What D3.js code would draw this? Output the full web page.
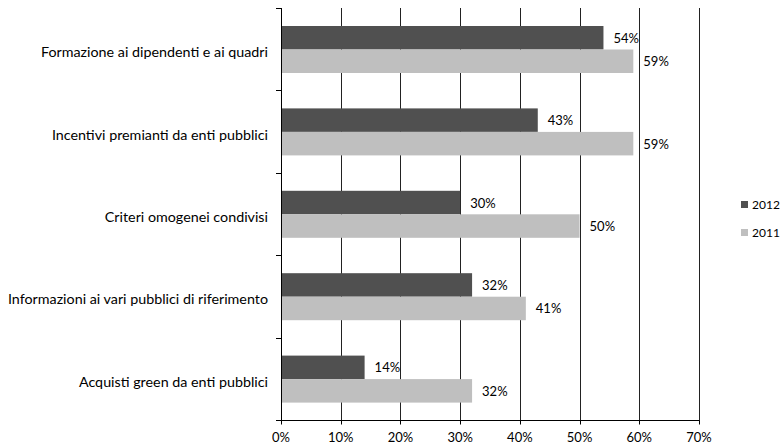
<!DOCTYPE html>
<html><head><meta charset="utf-8">
<script src="https://cdn.jsdelivr.net/npm/d3@7"></script>
<style>body{margin:0;background:#fff}svg{display:block}text{font-family:Lato,"Open Sans",sans-serif;fill:#000}</style>
</head><body><svg id="c" width="784" height="447"></svg>
<script>
const categories = ["Formazione ai dipendenti e ai quadri","Incentivi premianti da enti pubblici","Criteri omogenei condivisi","Informazioni ai vari pubblici di riferimento","Acquisti green da enti pubblici"];
const series = ["2012","2011"];
const values2012 = [54,43,30,32,14];
const values2011 = [59,59,50,41,32];
const xTicks = [0,10,20,30,40,50,60,70];
const colors = {"2012":"#505050","2011":"#bfbfbf"};

const svg = d3.select("#c");
const x = d3.scaleLinear().domain([0,70]).range([281,699]);
const y = d3.scaleBand().domain(categories).range([8,420]);
const inner = d3.scaleBand().domain(series).range([0,47]);
const off = 18;

// gridlines
svg.append("g").selectAll("line").data(xTicks.slice(1)).join("line")
  .attr("x1",d=>Math.round(x(d))+0.5).attr("x2",d=>Math.round(x(d))+0.5)
  .attr("y1",8).attr("y2",424).attr("stroke","#222").attr("stroke-width",1);

const data = [];
categories.forEach((c,i)=>{data.push({c,s:"2012",v:values2012[i]});data.push({c,s:"2011",v:values2011[i]});});

svg.append("g").selectAll("rect").data(data).join("rect")
  .attr("x",x(0)).attr("y",d=>y(d.c)+off+inner(d.s))
  .attr("width",d=>x(d.v)-x(0)).attr("height",inner.bandwidth())
  .attr("fill",d=>colors[d.s]);

svg.append("g").selectAll("text").data(data).join("text")
  .attr("x",d=>x(d.v)+10).attr("y",d=>y(d.c)+off+inner(d.s)+inner.bandwidth()/2+5)
  .attr("font-size",13).text(d=>d.v+"%");

// y axis
const ya = svg.append("g");
ya.append("line").attr("x1",281.5).attr("x2",281.5).attr("y1",8).attr("y2",420).attr("stroke","#000");
const bounds = d3.range(categories.length+1).map(i=>8+i*y.step());
ya.selectAll("line.t").data(bounds).join("line").attr("class","t")
  .attr("x1",276).attr("x2",281).attr("y1",d=>Math.round(d)+0.5).attr("y2",d=>Math.round(d)+0.5).attr("stroke","#000");
ya.selectAll("text").data(categories).join("text")
  .attr("x",268).attr("y",d=>y(d)+y.bandwidth()/2+8).attr("text-anchor","end").attr("font-size",14.3).text(d=>d);

// x axis
const xa = svg.append("g").attr("transform","translate(0,420.5)");
xa.append("line").attr("x1",276).attr("x2",699).attr("stroke","#000");
xa.selectAll("line.t").data(xTicks).join("line").attr("class","t")
  .attr("x1",d=>Math.round(x(d))+0.5).attr("x2",d=>Math.round(x(d))+0.5).attr("y1",0).attr("y2",4).attr("stroke","#000");
xa.selectAll("text").data(xTicks).join("text")
  .attr("x",d=>x(d)).attr("y",21).attr("text-anchor","middle").attr("font-size",13).text(d=>d+"%");

// legend
const lg = svg.append("g").selectAll("g").data(series).join("g")
  .attr("transform",(d,i)=>`translate(741,${201+i*28})`);
lg.append("rect").attr("width",7).attr("height",7).attr("fill",d=>colors[d]);
lg.append("text").attr("x",11).attr("y",8).attr("font-size",12).text(d=>d);
</script></body></html>
